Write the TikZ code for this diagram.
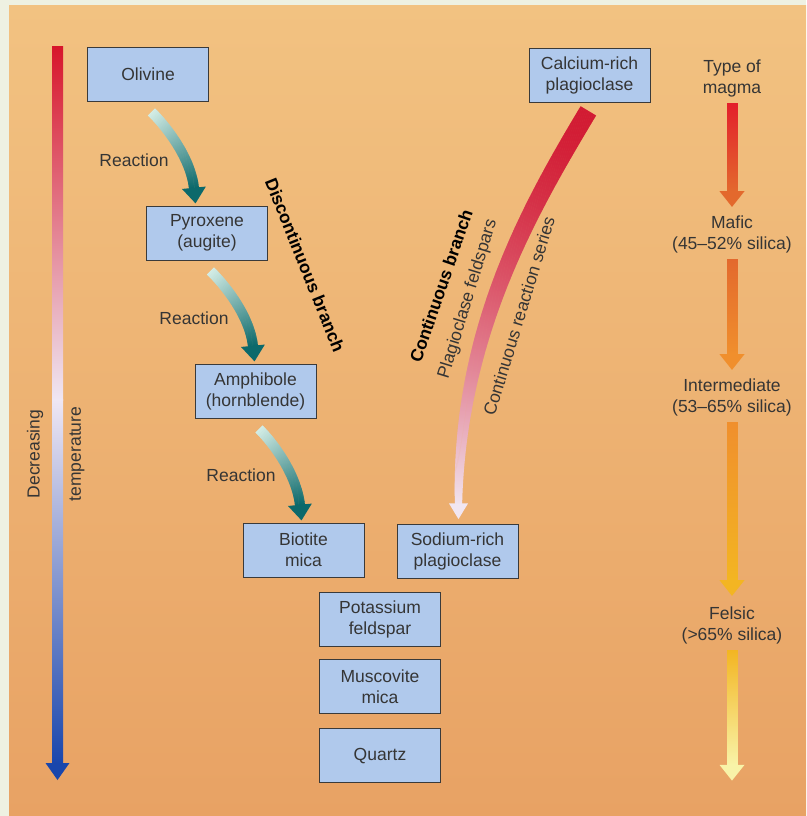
\documentclass[tikz,border=0pt]{standalone}
\usepackage{fontspec}
\setmainfont{Liberation Sans}
\usepackage{xcolor}
\usepackage{tikz}
\usetikzlibrary{positioning,calc,decorations.markings}
\definecolor{scanwhite}{HTML}{EEF1E2}
\definecolor{papertop}{HTML}{F2C281}
\definecolor{paperbottom}{HTML}{E8A264}
\definecolor{mineralblue}{HTML}{B0C9EC}
\definecolor{boxline}{HTML}{3A3A3A}
\definecolor{inkgrey}{HTML}{353535}
\definecolor{reactpale}{HTML}{D4EEE7}
\definecolor{reactdark}{HTML}{0C696B}
\definecolor{hotred}{HTML}{D7162B}
\definecolor{coolwhite}{HTML}{EFE7F3}
\definecolor{coldblue}{HTML}{1946AC}
\definecolor{plagred}{HTML}{D21B33}
\definecolor{plagpale}{HTML}{F1E6F1}
\definecolor{magmaA}{HTML}{E31F2B}
\definecolor{magmaB}{HTML}{E3692D}
\definecolor{magmaC}{HTML}{F08F2D}
\definecolor{magmaD}{HTML}{F3B522}
\definecolor{magmaE}{HTML}{F8F3A8}

\begin{document}
\begin{tikzpicture}[
    x=1pt, y=-1pt,
    every node/.style={font=\fontsize{17.5}{21}\selectfont, align=center, text=inkgrey},
    mineral/.style={draw=boxline, fill=mineralblue, line width=0.9pt,
      minimum width=121pt, minimum height=54pt, inner sep=2pt},
    lab/.style={inner sep=0pt},
    branch/.style={inner sep=0pt, text=black, font=\fontsize{17.5}{21}\selectfont\bfseries},
    grad from/.store in=\gradfrom, grad to/.store in=\gradto,
    grad w0/.store in=\gradwa, grad w1/.store in=\gradwb,
    grad head/.store in=\gradhead, grad len/.store in=\gradlen,
    grad gamma/.store in=\gradgamma, grad taper/.store in=\gradtaper,
    grad gamma=1, grad taper=1,
    % shaft: many thin slices, colour and width change along the path
    gradarrow/.style={
      postaction={decorate, decoration={markings,
        mark=between positions 0 and 1 step 1pt with {%
          \pgfmathsetmacro\gradfrac{max(0.001,min(1,\pgfkeysvalueof{/pgf/decoration/mark info/distance from start}/\pgfdecoratedpathlength))}%
          \pgfmathsetmacro\gradpct{min(100,100*\gradfrac^\gradgamma)}%
          \pgfmathsetmacro\gradhw{\gradwa+(\gradwb-\gradwa)*\gradfrac^\gradtaper}%
          \colorlet{gradnow}{\gradto!\gradpct!\gradfrom}%
          \fill[gradnow] (-0.7pt,-\gradhw pt) rectangle (0.7pt,\gradhw pt);}}},
      % head: a separate pass so that it is never skipped
      postaction={decorate, decoration={markings,
        mark=at position 0.999 with {%
          \fill[\gradto] (-0.7pt,-\gradhead pt) -- (\gradlen pt,0pt) -- (-0.7pt,\gradhead pt) -- cycle;}}}},
    reaction/.style={gradarrow, grad from=reactpale, grad to=reactdark,
      grad w0=5, grad w1=5, grad head=12, grad len=15},
    plagarrow/.style={gradarrow, grad from=plagred, grad to=plagpale, grad gamma=1.6,
      grad taper=2, grad w0=9, grad w1=3.5, grad head=9.5, grad len=15},
    magarrow/.style={gradarrow, grad w0=5.5, grad w1=5.5, grad head=12.5, grad len=15}
  ]

  \useasboundingbox (0,0) rectangle (806,816);

  % ---------- paper ----------
  \fill[scanwhite] (0,0) rectangle (806,816);
  \shade[top color=papertop, bottom color=paperbottom] (9,6) rectangle (806,816);

  % ---------- temperature scale ----------
  \shade[top color=hotred, bottom color=coolwhite] (52,47) rectangle (63,400);
  \shade[top color=coolwhite, bottom color=coldblue] (52,399.5) rectangle (63,764);
  \fill[coldblue] (45.5,763) -- (69.5,763) -- (57.5,780) -- cycle;
  \node[lab, rotate=90] (decreasing) at (35,454) {Decreasing};
  \node[lab, rotate=90] (temperature) at (77,454) {temperature};

  % ---------- discontinuous branch ----------
  \node[mineral] (olivine)   at (148,74)    {Olivine};
  \node[mineral] (pyroxene)  at (207,233)   {Pyroxene\\(augite)};
  \node[mineral] (amphibole) at (255.5,391) {Amphibole\\(hornblende)};
  \node[mineral] (biotite)   at (303.5,550) {Biotite\\mica};
  \node[lab] (react1) at (134,160)   {Reaction};
  \node[lab] (react2) at (194,318)   {Reaction};
  \node[lab] (react3) at (241,475.5) {Reaction};
  \path[reaction] ($(olivine.south)+(4,11)$) .. controls +(15,15) and +(-3,-30) .. ($(pyroxene.north)+(-13,-17)$);
  \path[reaction] ($(pyroxene.south)+(4,11)$) .. controls +(15,15) and +(-3,-30) .. ($(amphibole.north)+(-2.5,-17)$);
  \path[reaction] ($(amphibole.south)+(4,11)$) .. controls +(15,15) and +(-3,-30) .. ($(biotite.north)+(-3.5,-17)$);
  \node[branch, rotate=-68] (discbranch) at (305,265) {Discontinuous branch};

  % ---------- continuous branch ----------
  \node[mineral] (calcium) at (589.5,75)  {Calcium-rich\\plagioclase};
  \node[mineral] (sodium)  at (457.5,551) {Sodium-rich\\plagioclase};
  \path[plagarrow] ($(calcium.south)+(-1.5,9)$) .. controls +(-60,100) and +(0,-170) .. ($(sodium.north)+(1,-19)$);
  \node[branch, rotate=71] (contbranch) at (441,286) {Continuous branch};
  \node[lab, rotate=73] (plagfeld)   at (468,299) {Plagioclase feldspars};
  \node[lab, rotate=73] (contseries) at (519,316) {Continuous reaction series};

  % ---------- last to crystallize ----------
  \node[mineral] (potassium) at (380,619) {Potassium\\feldspar};
  \node[mineral, below=13pt of potassium] (muscovite) {Muscovite\\mica};
  \node[mineral, below=14pt of muscovite] (quartz) {Quartz};

  % ---------- type of magma ----------
  \node[lab, anchor=north] (typeof)       at (732,60)  {Type of\\magma};
  \node[lab, anchor=north] (mafic)        at (732,216) {Mafic\\(45--52\% silica)};
  \node[lab, anchor=north] (intermediate) at (732,379) {Intermediate\\(53--65\% silica)};
  \node[lab, anchor=north] (felsic)       at (732,607) {Felsic\\(>65\% silica)};
  \coordinate (magmaend) at ($(felsic.south)+(0,121)$);
  \path[magarrow, grad from=magmaA, grad to=magmaB] ($(typeof.south)+(0,6)$) -- ($(mafic.north)+(0,-24)$);
  \path[magarrow, grad from=magmaB, grad to=magmaC] ($(mafic.south)+(0,6)$) -- ($(intermediate.north)+(0,-24)$);
  \path[magarrow, grad from=magmaC, grad to=magmaD] ($(intermediate.south)+(0,6)$) -- ($(felsic.north)+(0,-26)$);
  \path[magarrow, grad from=magmaD, grad to=magmaE] ($(felsic.south)+(0,6)$) -- (magmaend);

\end{tikzpicture}
\end{document}
